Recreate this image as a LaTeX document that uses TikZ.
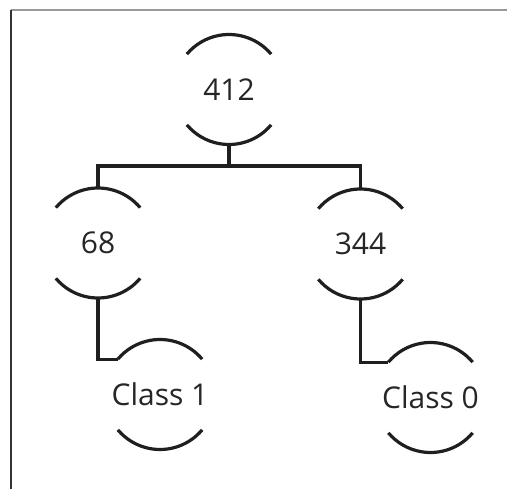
\documentclass[tikz,border=0pt]{standalone}
\usepackage{fontspec}
\setmainfont{Open Sans}
\begin{document}
\begin{tikzpicture}[x=1pt,y=1pt,
  tnode/.style={circle,inner sep=0pt,outer sep=0pt,minimum size=110pt,
    font=\fontsize{30}{34}\selectfont,text=black!85},
  link/.style={line width=3.2pt,draw=black!88},
  rim/.style={line width=3.2pt,draw=black!88,line cap=butt}]
\useasboundingbox (0,0) rectangle (507,-489);
\draw[gray!80,line width=1.5pt] (11,-10) -- (507,-10);
\draw[black!80,line width=1.5pt] (11,-10) -- (11,-489);

\node[tnode] (n412) at (229,-89.5) {412};
\node[tnode] (n68) at (98,-243) {68};
\node[tnode] (n344) at (360.5,-244) {344};
\node[tnode] (c1) at (160,-394.5) {Class 1};
\node[tnode] (c0) at (430.5,-397.5) {Class 0};

\foreach \n in {n412,n68,n344,c1,c0}{
  \draw[rim] (\n.40) arc[start angle=40,end angle=140,radius=55];
  \draw[rim] (\n.-40) arc[start angle=-40,end angle=-140,radius=55];
}

\coordinate (bar) at (229,-166);
\draw[link] (n412.south) -- (bar);
\draw[link,line join=miter] (n68.north) |- (bar) -| (n344.north);
\draw[link,line join=miter] (n68.south) |- (c1.140);
\draw[link,line join=miter] (n344.south) |- (c0.140);
\end{tikzpicture}
\end{document}
